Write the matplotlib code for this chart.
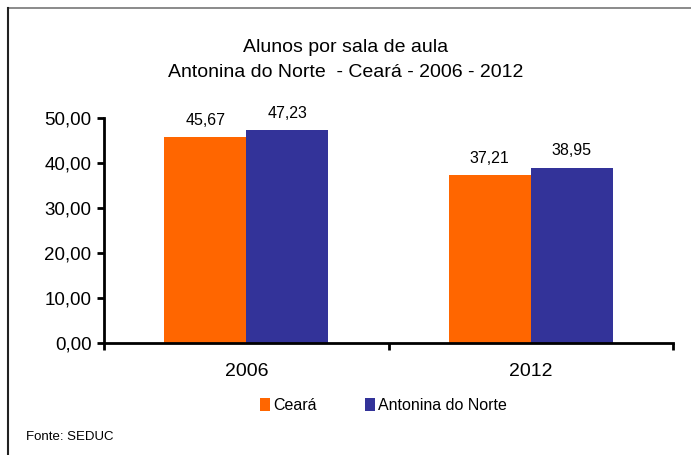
import matplotlib
matplotlib.use("Agg")
from matplotlib import pyplot as plt
from matplotlib.lines import Line2D
import numpy as np

plt.rcParams["font.family"] = ["Liberation Sans", "DejaVu Sans"]

# Data
years = ["2006", "2012"]
series_names = ["Ceará", "Antonina do Norte"]
ceara = [45.67, 37.21]
antonina = [47.23, 38.95]
colors = ["#FF6600", "#333399"]

fig = plt.figure(figsize=(6.91, 4.55), dpi=100)
ax = fig.add_axes([0.1505, 0.246, 0.8235, 0.495])

x = np.arange(len(years))
bar_width = 0.289

b1 = ax.bar(x - bar_width / 2, ceara, width=bar_width, color=colors[0], label=series_names[0])
b2 = ax.bar(x + bar_width / 2, antonina, width=bar_width, color=colors[1], label=series_names[1])

# value labels
for bars, vals in [(b1, ceara), (b2, antonina)]:
    for rect, v in zip(bars, vals):
        ax.annotate(f"{v:.2f}".replace(".", ","),
                    (rect.get_x() + rect.get_width() / 2, v),
                    xytext=(0, 7), textcoords="offset points",
                    ha="center", va="bottom", fontsize=11.5)

ax.set_xlim(-0.5, 1.5)
ax.set_ylim(0, 50)
ax.set_yticks(np.arange(0, 51, 10))
ax.set_yticklabels([f"{v:.2f}".replace(".", ",") for v in np.arange(0, 51, 10)], fontsize=13.5)

# category labels centered, tick marks at boundaries
ax.set_xticks([-0.5, 0.5, 1.5])
ax.set_xticklabels([])
ax.set_xticks(x, minor=True)
ax.set_xticklabels(years, minor=True, fontsize=14)
ax.tick_params(axis="x", which="minor", length=0, pad=14)
ax.tick_params(axis="x", which="major", length=5, width=2, direction="out")
ax.tick_params(axis="y", length=5, width=2, direction="out", pad=4)

for side in ["top", "right"]:
    ax.spines[side].set_visible(False)
for side in ["left", "bottom"]:
    ax.spines[side].set_linewidth(2)

# title
fig.text(0.5, 0.868, "Alunos por sala de aula\nAntonina do Norte  - Ceará - 2006 - 2012",
         ha="center", va="center", fontsize=14, linespacing=1.55)

# legend
fig.legend(handles=[b1, b2], labels=series_names, loc="center",
           bbox_to_anchor=(0.555, 0.108), ncol=2, frameon=False,
           fontsize=11.5, handlelength=0.65, handleheight=0.85,
           handletextpad=0.2, columnspacing=3.0)

# source note
fig.text(0.038, 0.039, "Fonte: SEDUC", ha="left", va="center", fontsize=9.5)

# outer frame (top and left visible)
fig.add_artist(Line2D([0.0116, 1.0], [0.983, 0.983], transform=fig.transFigure,
                      color="#777777", linewidth=1.2))
fig.add_artist(Line2D([0.0116, 0.0116], [0.0, 0.983], transform=fig.transFigure,
                      color="#222222", linewidth=1.5))

fig.savefig("out.png", dpi=100, facecolor="white")
